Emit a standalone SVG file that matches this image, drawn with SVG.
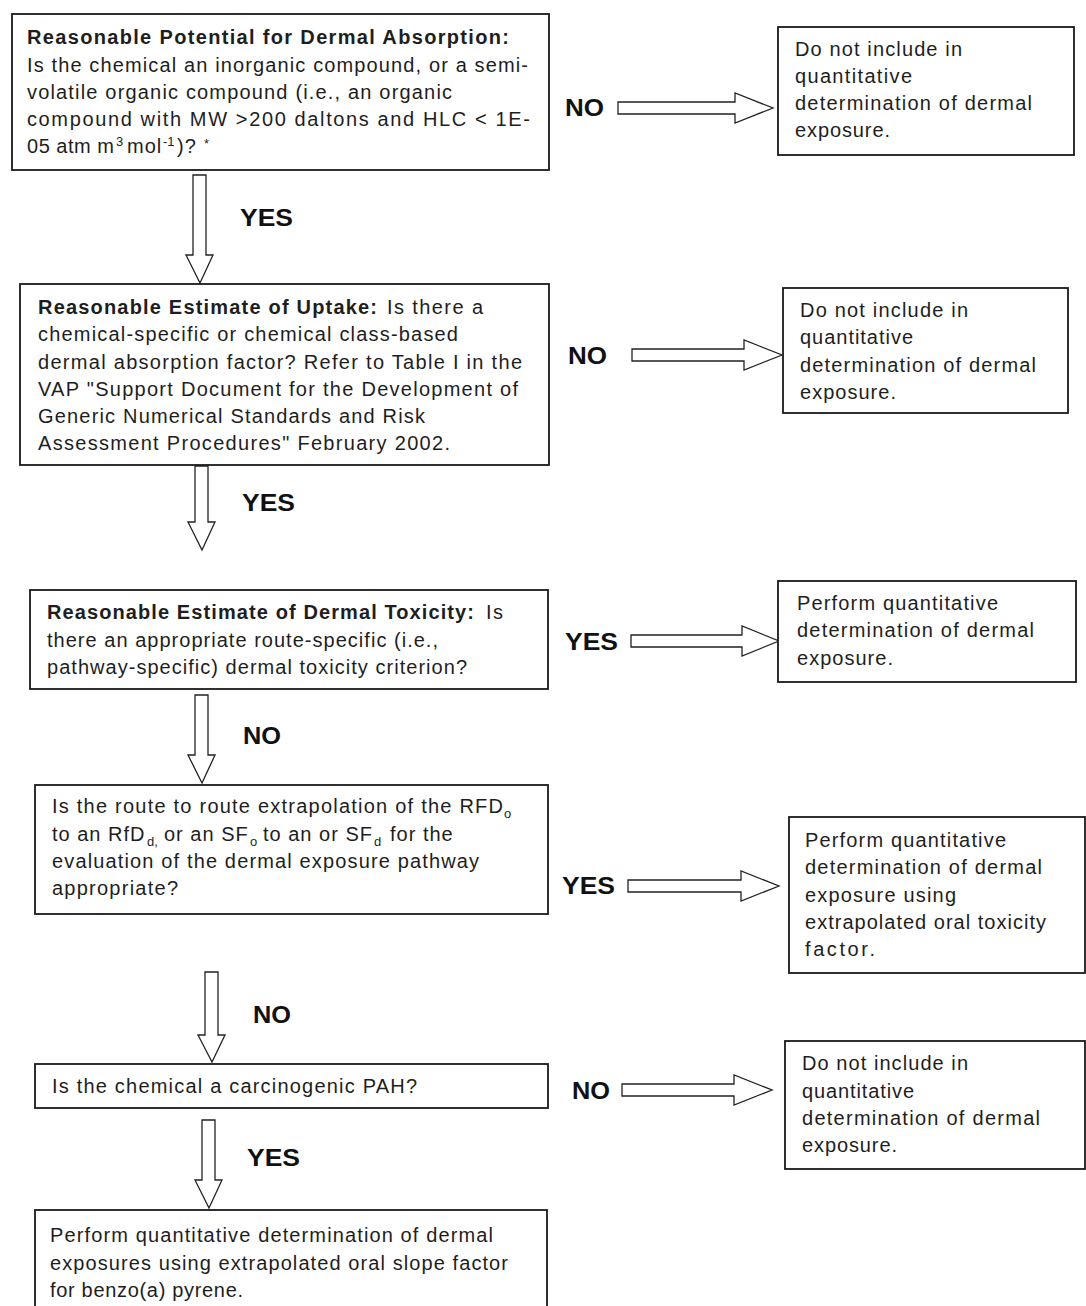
<svg xmlns="http://www.w3.org/2000/svg" width="1086" height="1306" viewBox="0 0 1086 1306">
<style>
.box{fill:#fff;stroke:#1a1a1a;stroke-width:1.8}
.arr{fill:#fff;stroke:#222;stroke-width:1.3;stroke-linejoin:miter}
.t{font-family:"Liberation Sans",Arial,sans-serif;font-size:20px;fill:#1e1e1e}
.b{font-weight:bold}
.ls{letter-spacing:1px}
.lbl{font-family:"Liberation Sans",Arial,sans-serif;font-size:23px;font-weight:bold;fill:#111}
.sub{font-size:13px}
</style>
<rect width="1086" height="1306" fill="#fff"/>

<g id="connectors">
  <path class="arr" d="M618,102 H735 V93 L773,108 L735,123 V114 H618 Z"/>
  <path class="arr" d="M632,349 H744 V340 L782,355 L744,370 V361 H632 Z"/>
  <path class="arr" d="M631,635 H742 V626 L779,641 L742,656 V647 H631 Z"/>
  <path class="arr" d="M628,880 H741 V871 L779,886 L741,901 V892 H628 Z"/>
  <path class="arr" d="M622,1084 H734 V1075 L772,1090 L734,1105 V1096 H622 Z"/>
  <path class="arr" d="M193,175 V255 H186 L200,283 L213,255 H206 V175 Z"/>
  <path class="arr" d="M195,466 V522 H188 L202,550 L215,522 H208 V466 Z"/>
  <path class="arr" d="M195,695 V755 H188 L202,783 L215,755 H208 V695 Z"/>
  <path class="arr" d="M205,972 V1035 H198 L212,1062 L225,1035 H218 V972 Z"/>
  <path class="arr" d="M202,1120 V1180 H195 L209,1208 L222,1180 H215 V1120 Z"/>
  <text class="lbl" x="565" y="116" textLength="39" lengthAdjust="spacingAndGlyphs">NO</text>
  <text class="lbl" x="240" y="226" textLength="53" lengthAdjust="spacingAndGlyphs">YES</text>
  <text class="lbl" x="568" y="364" textLength="39" lengthAdjust="spacingAndGlyphs">NO</text>
  <text class="lbl" x="242" y="511" textLength="53" lengthAdjust="spacingAndGlyphs">YES</text>
  <text class="lbl" x="565" y="650" textLength="53" lengthAdjust="spacingAndGlyphs">YES</text>
  <text class="lbl" x="243" y="744" textLength="38" lengthAdjust="spacingAndGlyphs">NO</text>
  <text class="lbl" x="562" y="894" textLength="53" lengthAdjust="spacingAndGlyphs">YES</text>
  <text class="lbl" x="253" y="1023" textLength="38" lengthAdjust="spacingAndGlyphs">NO</text>
  <text class="lbl" x="572" y="1099" textLength="38" lengthAdjust="spacingAndGlyphs">NO</text>
  <text class="lbl" x="247" y="1166" textLength="53" lengthAdjust="spacingAndGlyphs">YES</text>
</g>

<g id="node-absorption">
  <rect class="box" x="12" y="14" width="537" height="156"/>
  <text class="t b" x="27" y="44" textLength="482" lengthAdjust="spacing">Reasonable Potential for Dermal Absorption:</text>
  <text class="t" x="27" y="72" textLength="501" lengthAdjust="spacing">Is the chemical an inorganic compound, or a semi-</text>
  <text class="t" x="27" y="99" textLength="425" lengthAdjust="spacing">volatile organic compound (i.e., an organic</text>
  <text class="t" x="27" y="126" textLength="503" lengthAdjust="spacing">compound with MW &gt;200 daltons and  HLC &lt; 1E-</text>
  <text class="t" x="27" y="153" textLength="87" lengthAdjust="spacing">05 atm m</text>
  <text class="t sub" x="116" y="146">3</text>
  <text class="t ls" x="127" y="153">mol</text>
  <text class="t sub" x="163" y="146">-1</text>
  <text class="t ls" x="177" y="153">)?</text>
  <text class="t sub" x="204" y="148">*</text>
</g>

<g id="node-no1">
  <rect class="box" x="778" y="27" width="296" height="128"/>
  <text class="t" x="795" y="56" textLength="167" lengthAdjust="spacing">Do not include in</text>
  <text class="t" x="795" y="83" textLength="117" lengthAdjust="spacing">quantitative</text>
  <text class="t" x="795" y="110" textLength="237" lengthAdjust="spacing">determination of dermal</text>
  <text class="t" x="795" y="137" textLength="95" lengthAdjust="spacing">exposure.</text>
</g>

<g id="node-uptake">
  <rect class="box" x="20" y="284" width="529" height="181"/>
  <text class="t b" x="38" y="314" textLength="339" lengthAdjust="spacing">Reasonable Estimate of Uptake:</text>
  <text class="t" x="387" y="314" textLength="96" lengthAdjust="spacing">Is there a</text>
  <text class="t" x="38" y="341" textLength="420" lengthAdjust="spacing">chemical-specific or chemical class-based</text>
  <text class="t" x="38" y="369" textLength="484" lengthAdjust="spacing">dermal absorption factor?  Refer to Table I in the</text>
  <text class="t" x="38" y="396" textLength="480" lengthAdjust="spacing">VAP "Support Document for the Development of</text>
  <text class="t" x="38" y="423" textLength="387" lengthAdjust="spacing">Generic Numerical Standards and Risk</text>
  <text class="t" x="38" y="450" textLength="412" lengthAdjust="spacing">Assessment Procedures"  February 2002.</text>
</g>

<g id="node-no2">
  <rect class="box" x="783" y="288" width="285" height="125"/>
  <text class="t" x="800" y="317" textLength="168" lengthAdjust="spacing">Do not include in</text>
  <text class="t" x="800" y="344" textLength="113" lengthAdjust="spacing">quantitative</text>
  <text class="t" x="800" y="372" textLength="236" lengthAdjust="spacing">determination of dermal</text>
  <text class="t" x="800" y="399" textLength="96" lengthAdjust="spacing">exposure.</text>
</g>

<g id="node-toxicity">
  <rect class="box" x="30" y="590" width="518" height="99"/>
  <text class="t b" x="47" y="619" textLength="427" lengthAdjust="spacing">Reasonable Estimate of Dermal Toxicity:</text>
  <text class="t" x="486" y="619" textLength="17" lengthAdjust="spacing">Is</text>
  <text class="t" x="47" y="647" textLength="391" lengthAdjust="spacing">there an appropriate route-specific (i.e.,</text>
  <text class="t" x="47" y="674" textLength="420" lengthAdjust="spacing">pathway-specific) dermal toxicity criterion?</text>
</g>

<g id="node-yes3">
  <rect class="box" x="778" y="581" width="298" height="101"/>
  <text class="t" x="797" y="610" textLength="201" lengthAdjust="spacing">Perform quantitative</text>
  <text class="t" x="797" y="637" textLength="237" lengthAdjust="spacing">determination of dermal</text>
  <text class="t" x="797" y="665" textLength="96" lengthAdjust="spacing">exposure.</text>
</g>

<g id="node-extrapolation">
  <rect class="box" x="35" y="785" width="513" height="129"/>
  <text class="t" x="52" y="813" textLength="451" lengthAdjust="spacing">Is  the route to route extrapolation of the RFD</text>
  <text class="t sub" x="504" y="818">o</text>
  <text class="t ls" x="52" y="841">to an RfD</text>
  <text class="t sub" x="147" y="846">d,</text>
  <text class="t ls" x="164" y="841">or an SF</text>
  <text class="t sub" x="250" y="846">o</text>
  <text class="t ls" x="263" y="841">to an or SF</text>
  <text class="t sub" x="374" y="846">d</text>
  <text class="t ls" x="390" y="841">for the</text>
  <text class="t" x="52" y="868" textLength="427" lengthAdjust="spacing">evaluation of the dermal exposure pathway</text>
  <text class="t" x="52" y="895" textLength="126" lengthAdjust="spacing">appropriate?</text>
</g>

<g id="node-yes4">
  <rect class="box" x="789" y="817" width="296" height="156"/>
  <text class="t" x="805" y="847" textLength="201" lengthAdjust="spacing">Perform quantitative</text>
  <text class="t" x="805" y="874" textLength="237" lengthAdjust="spacing">determination of dermal</text>
  <text class="t" x="805" y="902" textLength="151" lengthAdjust="spacing">exposure using</text>
  <text class="t" x="805" y="929" textLength="241" lengthAdjust="spacing">extrapolated oral toxicity</text>
  <text class="t" x="805" y="956" textLength="70" lengthAdjust="spacing">factor.</text>
</g>

<g id="node-pah">
  <rect class="box" x="35" y="1064" width="513" height="44"/>
  <text class="t" x="52" y="1093" textLength="365" lengthAdjust="spacing">Is the chemical a carcinogenic PAH?</text>
</g>

<g id="node-no5">
  <rect class="box" x="785" y="1041" width="300" height="128"/>
  <text class="t" x="802" y="1070" textLength="166" lengthAdjust="spacing">Do not include in</text>
  <text class="t" x="802" y="1098" textLength="112" lengthAdjust="spacing">quantitative</text>
  <text class="t" x="802" y="1125" textLength="238" lengthAdjust="spacing">determination of dermal</text>
  <text class="t" x="802" y="1152" textLength="95" lengthAdjust="spacing">exposure.</text>
</g>

<g id="node-benzo">
  <rect class="box" x="35" y="1210" width="512" height="110"/>
  <text class="t" x="50" y="1242" textLength="443" lengthAdjust="spacing">Perform quantitative determination of dermal</text>
  <text class="t" x="50" y="1270" textLength="458" lengthAdjust="spacing">exposures using extrapolated oral slope factor</text>
  <text class="t" x="50" y="1297" textLength="193" lengthAdjust="spacing">for benzo(a) pyrene.</text>
</g>
</svg>
